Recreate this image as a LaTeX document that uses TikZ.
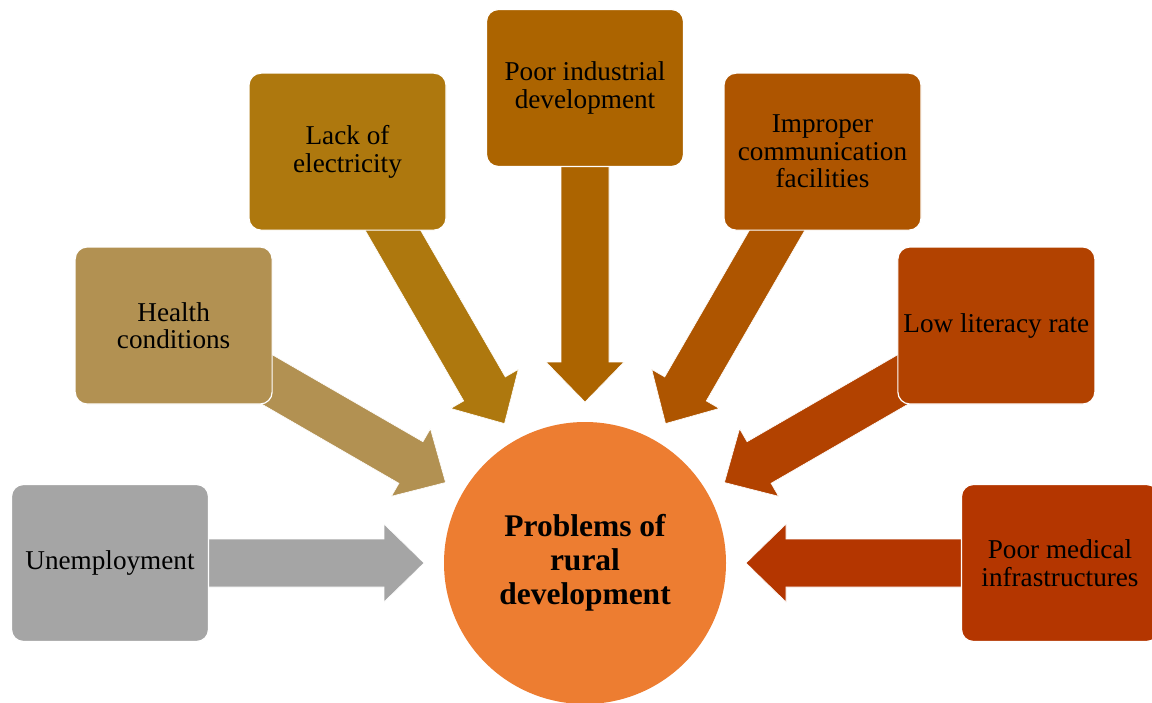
\documentclass[tikz,border=0pt]{standalone}
\usepackage{fontspec}
\setmainfont{Liberation Serif}
\usetikzlibrary{calc}
\definecolor{cUn}{HTML}{A5A5A5}
\definecolor{cHe}{HTML}{B29152}
\definecolor{cLa}{HTML}{AE780E}
\definecolor{cInd}{HTML}{AC6400}
\definecolor{cIm}{HTML}{AE5500}
\definecolor{cLo}{HTML}{B24200}
\definecolor{cMe}{HTML}{B43600}
\definecolor{hubOrange}{HTML}{ED7D31}
\tikzset{
  box/.style={draw=white, line width=1.2pt, rounded corners=12pt,
    minimum width=197pt, minimum height=157pt, inner sep=0pt,
    align=center, text=black, font=\fontsize{27.2}{27.5}\selectfont},
  hub/.style={circle, fill=hubOrange, minimum size=282pt, inner sep=0pt,
    align=center, text=black, font=\bfseries\fontsize{31.5}{34}\selectfont},
}
\newcommand{\blockarrow}[3]{%
  \coordinate (hb) at ($(#2)!40pt!(#1)$);
  \fill[#3, draw=white, line width=0.6pt]
    ($(#1)!24pt!90:(#2)$) -- ($(hb)!24pt!-90:(#1)$) -- ($(hb)!39pt!-90:(#1)$)
    -- (#2) -- ($(hb)!39pt!90:(#1)$) -- ($(hb)!24pt!90:(#1)$)
    -- ($(#1)!24pt!-90:(#2)$) -- cycle;}
\begin{document}
\begin{tikzpicture}[x=1pt,y=-1pt]
\useasboundingbox (0,0) rectangle (1152,702);
\clip (0,0) rectangle (1152,702);
\fill[white] (0,0) rectangle (1152,702);
\coordinate (C) at (585,563);
\foreach \nm/\ang in {un/180, he/210, la/240, ind/270, im/300, lo/330, me/360} {
  \coordinate (\nm-c) at ($(C)+(\ang:475)$);
  \coordinate (\nm-tip) at ($(C)+(\ang:161)$);
}
% block arrows (drawn under the boxes)
\blockarrow{un-c}{un-tip}{cUn}
\blockarrow{he-c}{he-tip}{cHe}
\blockarrow{la-c}{la-tip}{cLa}
\blockarrow{ind-c}{ind-tip}{cInd}
\blockarrow{im-c}{im-tip}{cIm}
\blockarrow{lo-c}{lo-tip}{cLo}
\blockarrow{me-c}{me-tip}{cMe}
% hub
\node[hub] (hub) at (C) {Problems of\\rural\\development};
% boxes
\node[box, fill=cUn] (un) at (un-c) {Unemployment};
\node[box, fill=cHe] (he) at (he-c) {Health\\conditions};
\node[box, fill=cLa] (la) at (la-c) {Lack of\\electricity};
\node[box, fill=cInd] (ind) at (ind-c) {Poor industrial\\development};
\node[box, fill=cIm] (im) at (im-c) {Improper\\communication\\facilities};
\node[box, fill=cLo] (lo) at (lo-c) {Low literacy rate};
\node[box, fill=cMe] (me) at (me-c) {Poor medical\\infrastructures};
\end{tikzpicture}
\end{document}
